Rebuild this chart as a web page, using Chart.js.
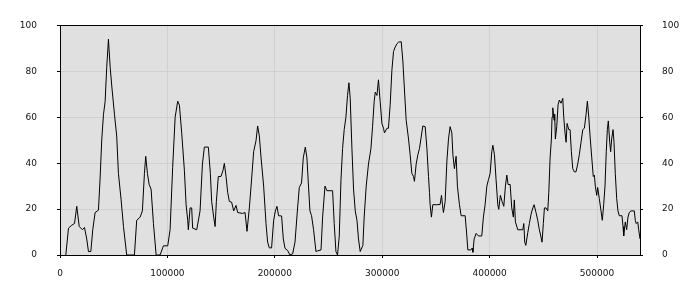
<!DOCTYPE html>
<html>
<head>
<meta charset="utf-8">
<script src="https://cdn.jsdelivr.net/npm/chart.js@4.4.1/dist/chart.umd.min.js"></script>
<style>
  body { margin: 0; background: #fff; }
  #wrap { width: 700px; height: 300px; }
</style>
</head>
<body>
<div id="wrap"><canvas id="chart"></canvas></div>
<script>
// sample positions (x) and values (y)
const xs = [
  5400, 7900, 11000, 13500, 15600, 17900, 20900, 22800, 24900, 26500,
  28700, 30500, 32700, 35800, 37400, 38900, 40500, 42000, 43500, 45100,
  46700, 48200, 50700, 52800, 54400, 56900, 59100, 62100, 69300, 71400,
  74600, 76700, 78600, 79800, 81400, 83000, 84800, 87000, 89500, 93200,
  96300, 100300, 102500, 104900, 107200, 109600, 111200, 113300, 115800, 117400,
  118900, 119500, 121100, 122600, 123500, 127300, 130400, 132600, 134400, 138100,
  140000, 141200, 143100, 144400, 145600, 147400, 149900, 151800, 153000, 154600,
  156100, 157700, 159800, 161700, 163900, 165400, 170000, 172300, 174100, 176300,
  177900, 180300, 182500, 184000, 185600, 187200, 189600, 191800, 193300, 194900,
  197000, 198900, 200500, 202000, 203500, 206300, 207900, 209500, 211900, 214100,
  216600, 218800, 221200, 222800, 224900, 226500, 228400, 229900, 231200, 232700,
  234200, 236100, 238300, 239800, 243000, 244500, 246700, 248500, 253800, 255300,
  256900, 258400, 260000, 261600, 263100, 264600, 266200, 267700, 269000, 270200,
  271800, 273300, 274900, 276500, 277900, 279500, 282000, 283200, 285100, 287200,
  289500, 291000, 292500, 293500, 295100, 296500, 298100, 299700, 301200, 302100,
  304400, 305800, 307400, 309000, 310500, 312100, 313700, 315200, 317700, 319200,
  320500, 322300, 324500, 326000, 327600, 329100, 330000, 331600, 333200, 334700,
  336000, 337800, 340000, 341600, 343100, 344000, 344600, 345800, 347100, 350900,
  353900, 355200, 356100, 357000, 358600, 360200, 361700, 363200, 364800, 365800,
  367200, 368800, 370000, 371900, 373500, 377200, 378800, 379700, 382500, 383700,
  384400, 385600, 387400, 389600, 392700, 394200, 395800, 397400, 398900, 400500,
  402000, 403000, 404500, 406000, 407600, 408500, 410000, 411600, 413200, 414700,
  416000, 417200, 419100, 420600, 422100, 423000, 424000, 426200, 430900, 431800,
  432700, 433700, 435500, 437000, 438600, 440200, 441400, 443200, 444800, 446300,
  447600, 448800, 450000, 451000, 452500, 454100, 455100, 456300, 457500, 458100,
  458800, 460000, 460600, 461200, 462500, 463700, 464900, 466500, 468100, 469000,
  470200, 471200, 472100, 473700, 474900, 476100, 477400, 478900, 480400, 482000,
  483500, 485100, 486700, 488200, 489800, 491000, 492300, 493500, 495100, 496500,
  497500, 498400, 499700, 500600, 502100, 503700, 504900, 506200, 507400, 508600,
  509600, 510500, 511800, 512700, 513600, 514900, 515800, 517000, 518300, 519500,
  520700, 523200, 524200, 524800, 526300, 527600, 528800, 530000, 531600, 534700,
  535600, 536500, 537900, 538800, 540000
];
const ys = [
  0, 11.7, 13, 13.7, 21.2, 12.4, 11, 12, 7, 1.5,
  1.5, 11, 18.5, 19.5, 34, 50.5, 61.3, 66.8, 81.8, 94,
  81.8, 73.6, 61.3, 51.8, 35.5, 24, 12.4, 0, 0, 15.1,
  16.5, 19.2, 35.5, 43, 35.5, 30.7, 28.7, 13.7, 0, 0,
  4, 4, 11, 38.2, 60, 67, 65.2, 53.2, 36.9, 21.9,
  15.1, 11, 20.5, 20.5, 11.7, 11, 19.2, 39.6, 47, 47,
  35.5, 23.3, 16.5, 12.4, 23.3, 34.2, 34.2, 36.9, 39.9, 34.2,
  27.3, 23.3, 23, 19.2, 21.6, 18.5, 18.1, 18.5, 10.3, 20.5,
  30, 45, 49.8, 56.2, 51.8, 42.3, 30, 13.7, 5.6, 3.1,
  3.1, 15.1, 19.2, 21.2, 17.1, 17, 7, 2.9, 2, 0,
  0.5, 5.6, 20.5, 29.4, 31.4, 42.3, 47, 42.3, 31.4, 19.2,
  17.1, 11, 1.5, 1.8, 2.2, 16.5, 30, 28, 28, 13.7,
  1.5, 0, 8.3, 32.8, 46.4, 54.6, 60, 69.5, 75, 68.2,
  46.4, 28.7, 19.2, 15.1, 7, 1.5, 4.2, 16.5, 30, 39.6,
  46.4, 55.9, 66.8, 70.9, 69.5, 76.3, 66.8, 57.3, 55.2, 53.2,
  55.2, 55.2, 65.4, 80.4, 88.6, 90.6, 92, 92.7, 92.9, 84.5,
  73.6, 58.7, 50.5, 43.7, 35.5, 34.2, 32.1, 39.6, 43.7, 46.4,
  50.5, 56.2, 55.9, 46.4, 34.2, 27.3, 21.9, 16.5, 21.9, 21.9,
  22, 26, 21.9, 18.5, 23.3, 40.9, 50.5, 55.9, 53.2, 43.7,
  37.6, 43, 30, 21.9, 17.1, 17.1, 8.3, 2.2, 2.2, 3,
  1.2, 7, 9.4, 8.3, 8.3, 16.5, 21.9, 30, 32.8, 35.5,
  45, 47.8, 43.7, 32.8, 21.9, 19.9, 26, 23.3, 21.2, 30,
  34.8, 30.7, 30.7, 20.5, 16.5, 24, 14.4, 11, 11, 13.7,
  5.6, 4.2, 9.7, 13.7, 17.8, 20.5, 21.9, 18.5, 15.1, 11,
  8.3, 5.6, 13.7, 20.5, 20.5, 19.2, 27.3, 42.3, 50.5, 60,
  64.1, 58.7, 61.3, 50.5, 55.9, 65.4, 67.5, 66.1, 68.2, 60,
  53.2, 49.1, 57.3, 54.6, 54.6, 45, 37.6, 36.2, 36.2, 39.6,
  43.7, 49.1, 54.6, 55.2, 61.3, 67, 60, 51.8, 42.3, 34.2,
  34.8, 30, 26, 29.4, 24.6, 19.2, 15.1, 21.9, 30, 45,
  54.6, 58.4, 49.1, 45, 50.5, 54.6, 49.1, 35.5, 24.6, 19.2,
  17.1, 17.1, 12.4, 8.3, 14.4, 11, 16.5, 18.5, 19.2, 19.2,
  15.1, 13.7, 14.4, 11, 7
];
const xTicks = [0, 100000, 200000, 300000, 400000, 500000];
const yTicks = [0, 20, 40, 60, 80, 100];
const xMin = 0;
const xMax = 540000;
const yMin = 0;
const yMax = 100;

const points = xs.map((x, i) => ({ x: x, y: ys[i] }));

// grey plot background and black frame around the plot area
const plotFrame = {
  id: "plotFrame",
  beforeDatasetsDraw(chart) {
    const { ctx, chartArea: a } = chart;
    ctx.save();
    ctx.globalCompositeOperation = "destination-over";
    ctx.fillStyle = "#e0e0e0";
    ctx.fillRect(a.left, a.top, a.right - a.left, a.bottom - a.top);
    ctx.restore();
  },
  afterDraw(chart) {
    const { ctx, chartArea: a } = chart;
    ctx.save();
    ctx.strokeStyle = "#000";
    ctx.lineWidth = 1;
    ctx.strokeRect(Math.round(a.left) + 0.5, Math.round(a.top) + 0.5,
      Math.round(a.right - a.left), Math.round(a.bottom - a.top));
    ctx.restore();
  }
};

const tickFont = { family: "DejaVu Sans", size: 9 };
const useTicks = (list) => (scale) => { scale.ticks = list.map(v => ({ value: v })); };

new Chart(document.getElementById("chart"), {
  type: "line",
  data: {
    datasets: [{
      data: points,
      borderColor: "#000",
      borderWidth: 1,
      pointRadius: 0,
      tension: 0,
      fill: false
    }]
  },
  options: {
    responsive: true,
    maintainAspectRatio: false,
    animation: false,
    layout: { padding: { top: 10, left: 0, right: 0, bottom: 0 } },
    plugins: {
      legend: { display: false },
      tooltip: { enabled: false }
    },
    scales: {
      x: {
        type: "linear",
        min: xMin,
        max: xMax,
        border: { display: false },
        grid: { color: "#d0d0d0", tickColor: "#000", tickLength: 3 },
        afterBuildTicks: useTicks(xTicks),
        ticks: {
          autoSkip: false,
          maxRotation: 0,
          padding: 10,
          color: "#111",
          font: tickFont,
          callback: (v) => String(v)
        },
        afterFit(scale) { scale.height = 45; }
      },
      y: {
        position: "left",
        min: yMin,
        max: yMax,
        border: { display: false },
        grid: { color: "#d0d0d0", tickColor: "#000", tickLength: 3 },
        afterBuildTicks: useTicks(yTicks),
        ticks: { padding: 20, color: "#111", font: tickFont },
        afterFit(scale) { scale.width = 60; }
      },
      y2: {
        position: "right",
        min: yMin,
        max: yMax,
        border: { display: false },
        grid: { drawOnChartArea: false, tickColor: "#000", tickLength: 3 },
        afterBuildTicks: useTicks(yTicks),
        ticks: { padding: 19, color: "#111", font: tickFont },
        afterFit(scale) { scale.width = 60; }
      }
    }
  },
  plugins: [plotFrame]
});
</script>
</body>
</html>
